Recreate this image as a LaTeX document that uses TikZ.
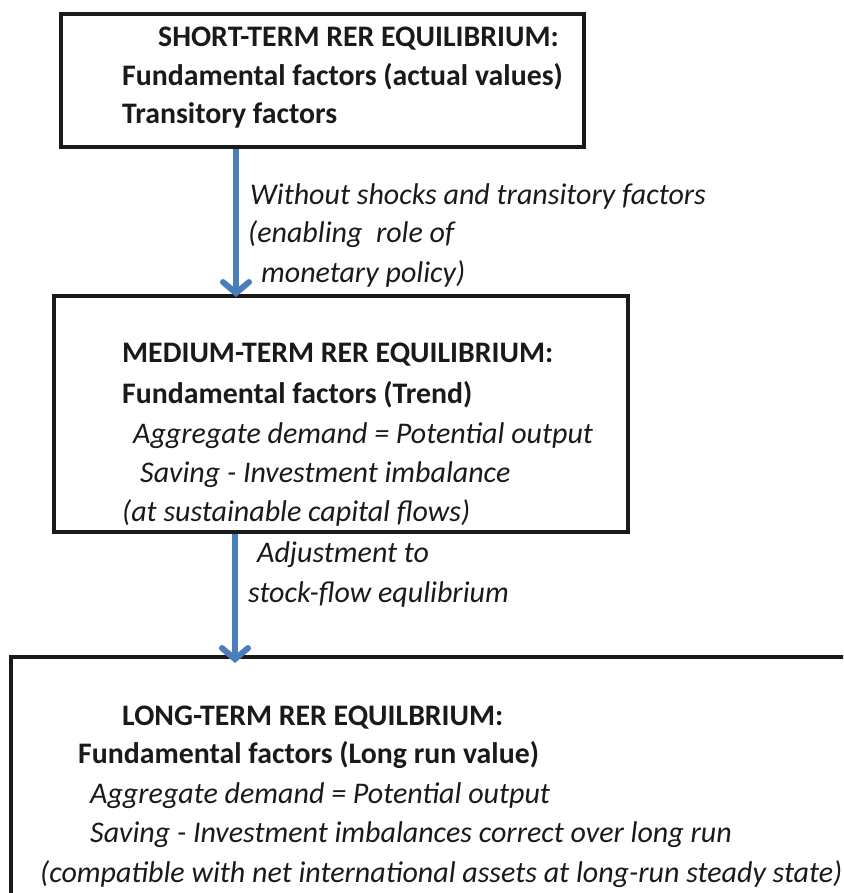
\documentclass[tikz,border=0pt]{standalone}
\usepackage{fontspec}
\setmainfont{Carlito}
\usetikzlibrary{arrows.meta}
\definecolor{arrblue}{RGB}{74,126,187}
\definecolor{ink}{RGB}{26,26,26}
\tikzset{
  box/.style={draw=ink, line width=4pt},
  flow/.style={draw=arrblue, line width=6pt, -{Straight Barb[length=11pt,width=26pt,line width=6pt,line cap=round]}},
  hd/.style={anchor=base west, inner sep=0pt, text=ink, font=\fontsize{29.8}{36}\selectfont\bfseries},
  it/.style={anchor=base west, inner sep=0pt, text=ink, font=\fontsize{30}{36}\selectfont\itshape},
}
\begin{document}
\begin{tikzpicture}[x=1pt,y=-1pt]
\useasboundingbox (0,0) rectangle (843,893);
\clip (0,0) rectangle (843,893);
% boxes
\node[box, minimum width=523pt, minimum height=133pt, inner sep=0pt] (b1) at (322.5,80.5) {};
\node[box, minimum width=574pt, minimum height=236pt, inner sep=0pt] (b2) at (341,414) {};
\node[box, minimum width=850pt, minimum height=260pt, inner sep=0pt] (b3) at (436,787) {};
% box 1 text
\node[hd] (t11) at (158,47) {SHORT-TERM RER EQUILIBRIUM:};
\node[hd] (t12) at (122,86) {Fundamental factors (actual values)};
\node[hd] (t13) at (122,124) {Transitory factors};
% arrow 1 label
\node[it] (l11) at (250,205) {Without shocks and transitory factors};
\node[it] (l12) at (248,243) {(enabling\ \ role of};
\node[it] (l13) at (261,282) {monetary policy)};
% box 2 text
\node[hd] (t21) at (122,362) {MEDIUM-TERM RER EQUILIBRIUM:};
\node[hd] (t22) at (122,403) {Fundamental factors (Trend)};
\node[it] (t23) at (133,443) {Aggregate demand = Potential output};
\node[it] (t24) at (140,482) {Saving - Investment imbalance};
\node[it] (t25) at (122,521) {(at sustainable capital flows)};
% arrow 2 label
\node[it] (l21) at (257,562) {Adjustment to};
\node[it] (l22) at (248,602) {stock-flow equlibrium};
% box 3 text
\node[hd] (t31) at (122,725) {LONG-TERM RER EQUILBRIUM:};
\node[hd] (t32) at (78,763) {Fundamental factors (Long run value)};
\node[it] (t33) at (90,803) {Aggregate demand = Potential output};
\node[it] (t34) at (90,842) {Saving - Investment imbalances correct over long run};
\node[it] (t35) at (40,882) {(compatible with net international assets at long-run steady state)};
% connectors
\coordinate (a1) at (236,0);
\coordinate (a2) at (235,0);
\coordinate (a2end) at (235,663);
\draw[flow] (b1.south -| a1) -- ([yshift=-3pt]b2.north -| a1);
\draw[flow] (b2.south -| a2) -- (a2end);
\end{tikzpicture}
\end{document}
